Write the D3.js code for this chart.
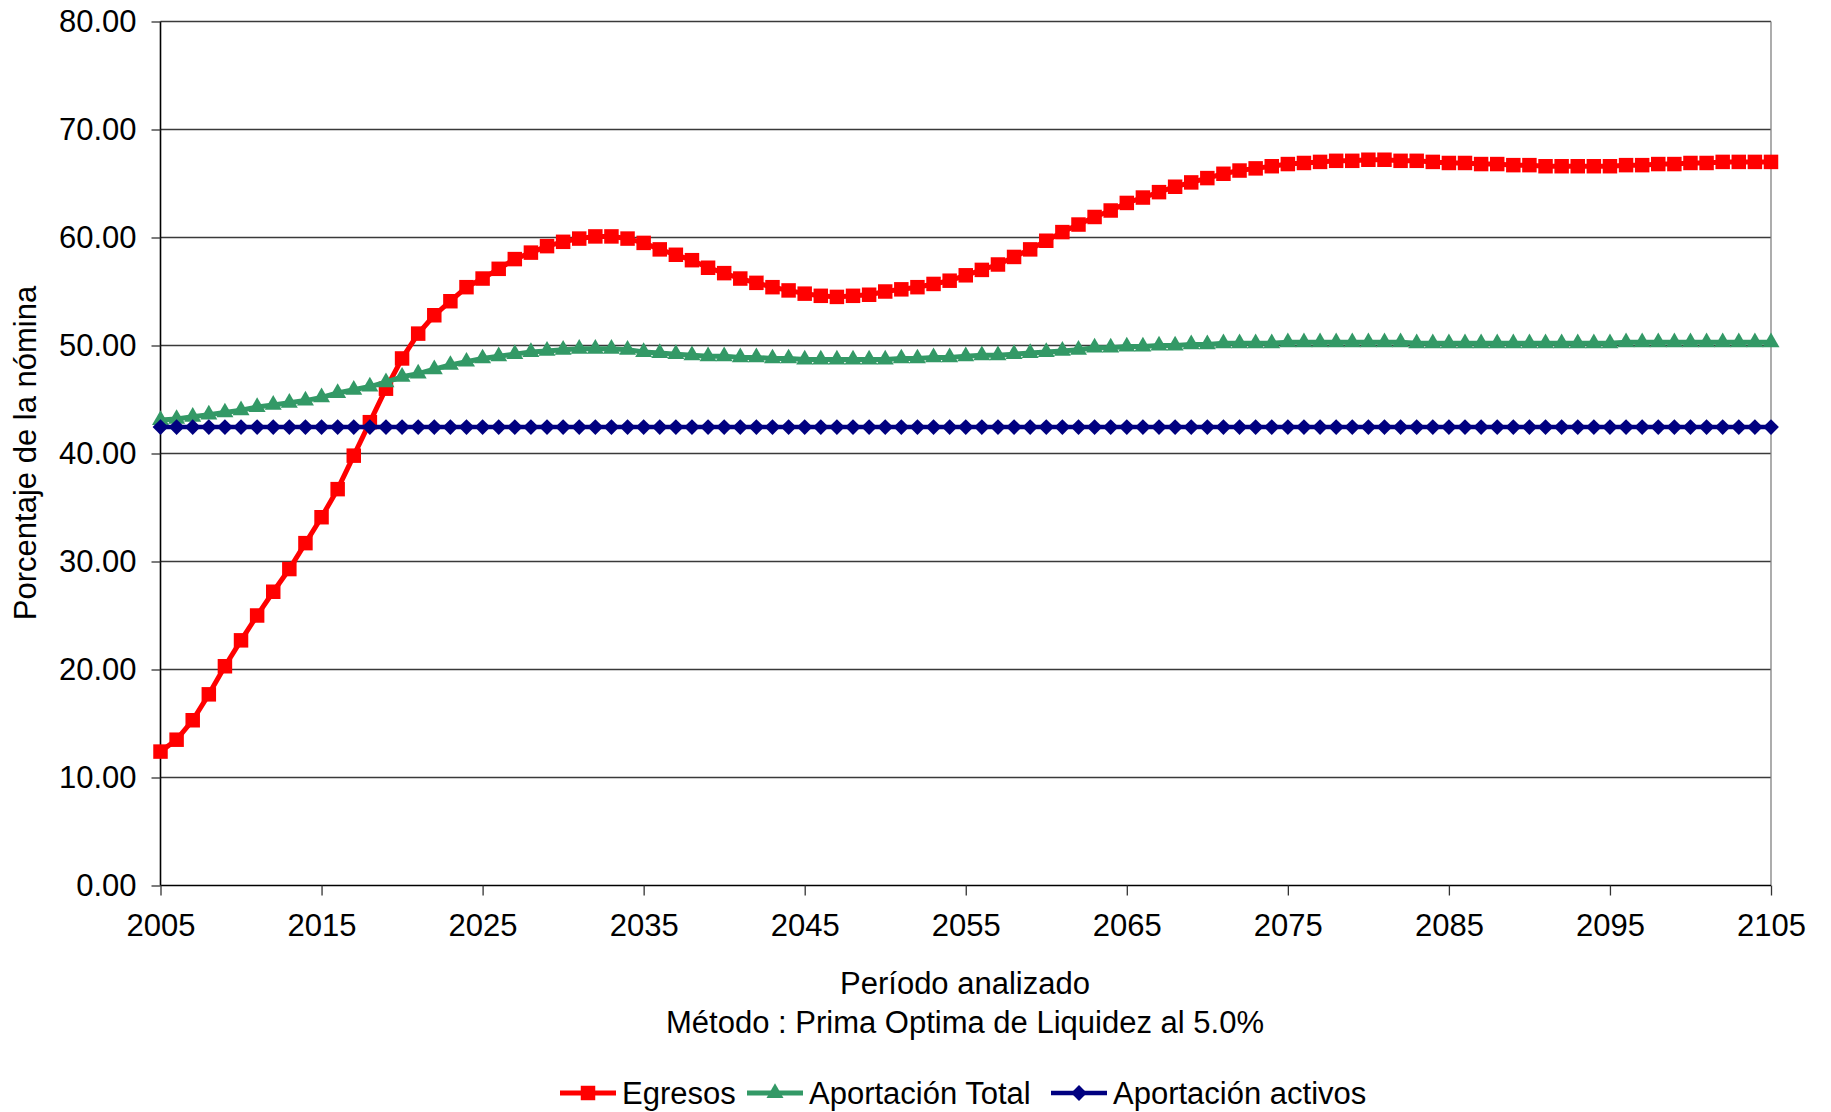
<!DOCTYPE html>
<head>
<meta charset="utf-8">
<title>Porcentaje de la nómina</title>
<style>
  body { margin: 0; background: #fff; }
  text { font-family: "Liberation Sans", Arial, sans-serif; fill: #000; }
</style>
</head>
<body>
<svg id="chart" width="1831" height="1112"></svg>
<script src="https://cdn.jsdelivr.net/npm/d3@7"></script>
<script>
// ---------------- data ----------------
var years = d3.range(2005, 2106); // 2005 .. 2105

var egresos = [
  12.4, 13.5, 15.3, 17.7, 20.3, 22.7, 25.0, 27.2, 29.3, 31.7,
  34.1, 36.7, 39.8, 42.9, 46.0, 48.8, 51.1, 52.8, 54.1, 55.4,
  56.2, 57.1, 58.0, 58.6, 59.2, 59.6, 59.9, 60.1, 60.1, 59.9,
  59.5, 58.9, 58.4, 57.9, 57.2, 56.7, 56.2, 55.8, 55.4, 55.1,
  54.8, 54.6, 54.5, 54.6, 54.7, 55.0, 55.2, 55.4, 55.7, 56.0,
  56.5, 57.0, 57.5, 58.2, 58.9, 59.7, 60.5, 61.2, 61.9, 62.5,
  63.2, 63.7, 64.2, 64.7, 65.1, 65.5, 65.9, 66.2, 66.4, 66.6,
  66.8, 66.9, 67.0, 67.1, 67.1, 67.2, 67.2, 67.1, 67.1, 67.0,
  66.9, 66.9, 66.8, 66.8, 66.7, 66.7, 66.6, 66.6, 66.6, 66.6,
  66.6, 66.7, 66.7, 66.8, 66.8, 66.9, 66.9, 67.0, 67.0, 67.0,
  67.0
];

var aportacionTotal = [
  43.1, 43.2, 43.4, 43.6, 43.8, 44.0, 44.3, 44.5, 44.7, 44.9,
  45.2, 45.6, 45.9, 46.2, 46.6, 47.1, 47.4, 47.8, 48.2, 48.5,
  48.8, 49.0, 49.2, 49.4, 49.5, 49.6, 49.7, 49.7, 49.7, 49.6,
  49.4, 49.3, 49.2, 49.1, 49.0, 49.0, 48.9, 48.9, 48.8, 48.8,
  48.7, 48.7, 48.7, 48.7, 48.7, 48.7, 48.8, 48.8, 48.9, 48.9,
  49.0, 49.1, 49.1, 49.2, 49.3, 49.4, 49.5, 49.6, 49.8, 49.8,
  49.9, 49.9, 50.0, 50.0, 50.1, 50.1, 50.2, 50.2, 50.2, 50.2,
  50.3, 50.3, 50.3, 50.3, 50.3, 50.3, 50.3, 50.3, 50.2, 50.2,
  50.2, 50.2, 50.2, 50.2, 50.2, 50.2, 50.2, 50.2, 50.2, 50.2,
  50.2, 50.3, 50.3, 50.3, 50.3, 50.3, 50.3, 50.3, 50.3, 50.3,
  50.3
];

var aportacionActivos = years.map(function () { return 42.45; });

var xTicks = d3.range(2005, 2106, 10);
var yTicks = [0, 10, 20, 30, 40, 50, 60, 70, 80];

var seriesNames = ["Egresos", "Aportación Total", "Aportación activos"];
var seriesColors = ["#ff0000", "#339966", "#000080"];

// ---------------- layout ----------------
var svg = d3.select("svg");
var margin = {top: 21.5, right: 60, bottom: 226, left: 160.5};
var width = 1771 - margin.left;
var height = 885.5 - margin.top;
var g = svg.append("g").attr("transform", "translate(" + margin.left + "," + margin.top + ")");

var x = d3.scaleLinear().domain([2005, 2105]).range([0, width]);
var y = d3.scaleLinear().domain([0, 80]).range([height, 0]);

// gridlines
g.append("g")
    .selectAll("line")
    .data(yTicks.filter(function (d) { return d > 0; }))
    .enter().append("line")
    .attr("x1", 0).attr("x2", width)
    .attr("y1", function (d) { return y(d); })
    .attr("y2", function (d) { return y(d); })
    .attr("stroke", "#3a3a3a")
    .attr("stroke-width", 1.3);

// right border
g.append("line")
    .attr("x1", width).attr("x2", width)
    .attr("y1", 0).attr("y2", height)
    .attr("stroke", "#808080")
    .attr("stroke-width", 1.3);

// axes
var yAxis = g.append("g")
    .call(d3.axisLeft(y).tickValues(yTicks).tickFormat(d3.format(".2f")).tickSize(9).tickPadding(15));
var xAxis = g.append("g")
    .attr("transform", "translate(0," + height + ")")
    .call(d3.axisBottom(x).tickValues(xTicks).tickFormat(d3.format("d")).tickSize(10).tickPadding(18));

[yAxis, xAxis].forEach(function (a) {
    a.select(".domain").attr("stroke", "#000").attr("stroke-width", 1.6);
    a.selectAll(".tick line").attr("stroke", "#333").attr("stroke-width", 1.3);
    a.selectAll("text").style("font-size", "31px").style("font-family", "'Liberation Sans', Arial, sans-serif").attr("fill", "#000");
});
yAxis.select(".domain").attr("d", "M0," + height + "V0");
xAxis.select(".domain").attr("d", "M0,0H" + width);

// axis titles
svg.append("text")
    .attr("transform", "translate(36," + 453 + ") rotate(-90)")
    .attr("text-anchor", "middle")
    .style("font-size", "31px")
    .text("Porcentaje de la nómina");

svg.append("text")
    .attr("x", 965).attr("y", 994)
    .attr("text-anchor", "middle")
    .style("font-size", "31px")
    .text("Período analizado");

svg.append("text")
    .attr("x", 965).attr("y", 1033)
    .attr("text-anchor", "middle")
    .style("font-size", "31px")
    .text("Método : Prima Optima de Liquidez al 5.0%");

// ---------------- series ----------------
var line = d3.line()
    .x(function (d) { return x(d.year); })
    .y(function (d) { return y(d.value); });

var symbols = [
    {type: d3.symbolSquare, size: 210, rotate: 0},
    {type: d3.symbolTriangle, size: 125, rotate: 0},
    {type: d3.symbolSquare, size: 125, rotate: 45}
];
var strokeWidths = [5, 5, 4.5];

var allSeries = [egresos, aportacionTotal, aportacionActivos].map(function (vals, i) {
    return {
        name: seriesNames[i],
        color: seriesColors[i],
        values: vals.map(function (v, j) { return {year: years[j], value: v}; })
    };
});

allSeries.forEach(function (s, i) {
    var sg = g.append("g").attr("class", "series");
    sg.append("path")
        .attr("d", line(s.values))
        .attr("fill", "none")
        .attr("stroke", s.color)
        .attr("stroke-width", strokeWidths[i])
        .attr("stroke-linejoin", "round");
    sg.selectAll("path.marker")
        .data(s.values)
        .enter().append("path")
        .attr("class", "marker")
        .attr("d", d3.symbol().type(symbols[i].type).size(symbols[i].size))
        .attr("transform", function (d) {
            return "translate(" + x(d.year) + "," + y(d.value) + ") rotate(" + symbols[i].rotate + ")";
        })
        .attr("fill", s.color);
});

// ---------------- legend ----------------
var legendX = [560, 747, 1051];
var legendY = 1093;
var legend = svg.append("g");
allSeries.forEach(function (s, i) {
    var lg = legend.append("g").attr("transform", "translate(" + legendX[i] + "," + legendY + ")");
    lg.append("line")
        .attr("x1", 0).attr("x2", 56)
        .attr("stroke", s.color)
        .attr("stroke-width", strokeWidths[i]);
    lg.append("path")
        .attr("d", d3.symbol().type(symbols[i].type).size(symbols[i].size))
        .attr("transform", "translate(28,0) rotate(" + symbols[i].rotate + ")")
        .attr("fill", s.color);
    lg.append("text")
        .attr("x", 62).attr("y", 11)
        .style("font-size", "31px")
        .text(s.name);
});
</script>
</body>
